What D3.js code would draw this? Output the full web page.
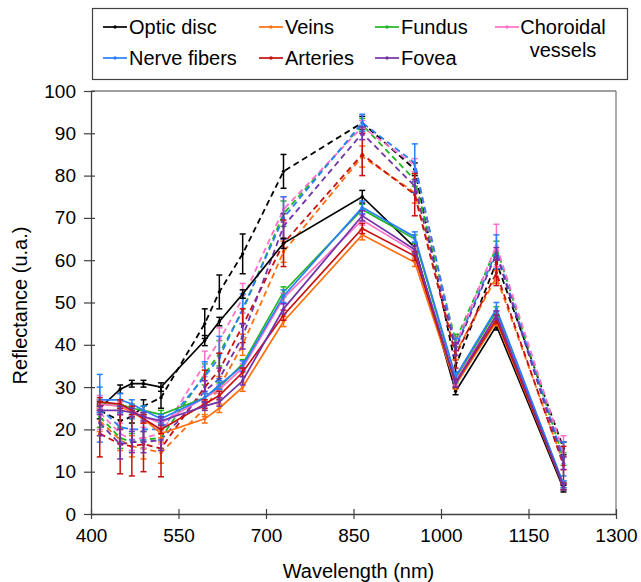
<!DOCTYPE html>
<html>
<head>
<meta charset="utf-8">
<script src="https://cdn.jsdelivr.net/npm/d3@7"></script>
<style>
  html, body { margin: 0; padding: 0; background: #ffffff; }
  svg { display: block; font-family: "Liberation Sans", Arial, sans-serif; }
</style>
</head>
<body>
<svg id="chart" width="641" height="582"></svg>
<script>
// ---------------- DATA ----------------
const wavelengths = [415, 450, 470, 490, 520, 595, 620, 660, 730, 865, 955, 1025, 1095, 1210];
const xTicks = [400, 550, 700, 850, 1000, 1150, 1300];
const yTicks = [0, 10, 20, 30, 40, 50, 60, 70, 80, 90, 100];

const classNames = ["Optic disc", "Veins", "Fundus", "Choroidal vessels", "Nerve fibers", "Arteries", "Fovea"];
const classColors = ["#000000", "#ff6f0f", "#22b422", "#ff70c8", "#2a7fff", "#c81010", "#7232a8"];

// solid series (group 1)
const opticDiscSolid   = [25.0, 29.5, 30.8, 30.8, 30.0, 41.0, 45.5, 52.0, 64.0, 75.0, 63.0, 29.0, 44.5, 6.0];
const veinsSolid       = [26.0, 25.5, 24.0, 22.5, 19.0, 22.5, 25.0, 30.0, 45.5, 66.0, 59.5, 30.5, 45.5, 6.5];
const fundusSolid      = [26.0, 26.0, 25.0, 24.5, 23.5, 27.5, 30.0, 35.5, 52.5, 72.0, 65.0, 32.0, 48.0, 7.0];
const choroidalSolid   = [26.0, 25.5, 24.5, 23.0, 21.5, 27.5, 29.5, 34.5, 51.0, 69.5, 62.0, 31.5, 47.0, 7.0];
const nerveSolid       = [27.0, 27.0, 26.0, 24.5, 22.5, 27.5, 30.5, 35.0, 51.5, 72.5, 65.5, 32.5, 48.5, 7.0];
const arteriesSolid    = [26.5, 26.0, 24.5, 22.5, 20.0, 26.0, 28.0, 33.5, 47.0, 67.5, 61.0, 31.0, 46.0, 6.5];
const foveaSolid       = [24.5, 24.5, 24.0, 23.0, 22.0, 25.5, 26.5, 31.5, 48.5, 70.5, 62.5, 31.0, 47.0, 6.5];

const opticDiscSolidErr = [1.0, 1.0, 0.8, 0.8, 1.0, 1.2, 1.0, 1.0, 1.2, 1.5, 1.0, 0.8, 1.0, 0.8];
const veinsSolidErr     = [1.0, 1.0, 1.0, 1.0, 1.0, 1.0, 1.0, 1.0, 1.2, 1.2, 1.0, 1.0, 1.0, 0.8];
const fundusSolidErr    = [1.0, 1.0, 1.0, 1.0, 1.0, 1.0, 1.0, 1.0, 1.2, 1.2, 1.0, 1.0, 1.0, 0.8];
const choroidalSolidErr = [1.0, 1.0, 1.0, 1.0, 1.0, 1.0, 1.0, 1.0, 1.2, 1.2, 1.0, 1.0, 1.0, 0.8];
const nerveSolidErr     = [3.0, 1.5, 1.0, 1.0, 1.0, 1.0, 1.0, 1.2, 1.5, 1.5, 1.2, 1.0, 1.5, 0.8];
const arteriesSolidErr  = [1.0, 1.0, 1.0, 1.0, 1.0, 1.0, 1.0, 1.0, 1.2, 1.2, 1.0, 1.0, 1.0, 0.8];
const foveaSolidErr     = [1.0, 1.0, 1.0, 1.0, 1.0, 1.0, 1.0, 1.0, 1.2, 1.2, 1.0, 1.0, 1.0, 0.8];

// dashed series (group 2)
const opticDiscDashed  = [24.5, 22.0, 23.0, 25.5, 27.5, 45.0, 52.5, 61.5, 81.0, 92.5, 81.5, 35.0, 59.5, 15.5];
const veinsDashed      = [22.0, 17.5, 16.0, 15.5, 14.5, 25.0, 30.0, 40.0, 62.0, 84.5, 76.0, 38.0, 56.0, 12.0];
const fundusDashed     = [23.0, 18.0, 17.0, 17.5, 18.0, 33.0, 38.0, 48.0, 71.0, 92.0, 79.0, 41.0, 63.0, 13.0];
const choroidalDashed  = [24.0, 19.0, 17.5, 18.0, 19.0, 35.5, 41.0, 51.0, 72.0, 91.5, 82.5, 40.0, 63.5, 14.5];
const nerveDashed      = [25.0, 20.5, 20.0, 20.0, 20.0, 32.5, 37.0, 48.5, 70.0, 92.5, 83.0, 39.5, 62.0, 13.0];
const arteriesDashed   = [19.0, 16.5, 16.0, 16.5, 15.5, 30.0, 34.0, 44.5, 64.0, 85.0, 75.5, 37.5, 57.0, 11.5];
const foveaDashed      = [21.5, 16.5, 17.0, 17.0, 17.5, 29.0, 32.0, 42.0, 68.0, 90.0, 77.5, 39.0, 61.5, 12.0];

const opticDiscDashedErr = [2.0, 2.0, 1.5, 1.5, 2.5, 3.5, 4.0, 4.7, 4.0, 1.5, 1.5, 1.5, 1.5, 1.5];
const veinsDashedErr     = [2.5, 2.5, 2.5, 2.5, 2.5, 2.0, 2.5, 2.5, 2.5, 2.5, 2.5, 1.5, 1.5, 1.5];
const fundusDashedErr    = [2.5, 2.5, 2.0, 2.0, 2.5, 2.5, 3.0, 3.0, 3.0, 1.5, 1.5, 1.5, 1.5, 1.5];
const choroidalDashedErr = [4.0, 2.5, 2.5, 2.5, 2.5, 3.0, 3.0, 3.5, 3.0, 1.5, 1.5, 1.5, 5.0, 4.0];
const nerveDashedErr     = [8.0, 3.5, 2.5, 2.5, 2.5, 3.5, 5.0, 3.5, 5.0, 2.0, 4.5, 2.0, 4.0, 4.0];
const arteriesDashedErr  = [5.5, 7.0, 7.0, 6.5, 6.7, 4.0, 4.0, 4.0, 5.5, 5.0, 5.0, 3.0, 3.0, 4.5];
const foveaDashedErr     = [3.0, 3.5, 2.5, 2.5, 2.5, 2.5, 2.5, 3.0, 3.0, 1.5, 1.5, 1.5, 1.5, 1.5];

const solidValues = [opticDiscSolid, veinsSolid, fundusSolid, choroidalSolid, nerveSolid, arteriesSolid, foveaSolid];
const solidErrors = [opticDiscSolidErr, veinsSolidErr, fundusSolidErr, choroidalSolidErr, nerveSolidErr, arteriesSolidErr, foveaSolidErr];
const dashedValues = [opticDiscDashed, veinsDashed, fundusDashed, choroidalDashed, nerveDashed, arteriesDashed, foveaDashed];
const dashedErrors = [opticDiscDashedErr, veinsDashedErr, fundusDashedErr, choroidalDashedErr, nerveDashedErr, arteriesDashedErr, foveaDashedErr];

// ---------------- LAYOUT ----------------
const svg = d3.select("#chart");
const plot = { left: 91, right: 616, top: 91, bottom: 514 };
const FONT = "Liberation Sans, Arial, sans-serif";

const x = d3.scaleLinear().domain([400, 1300]).range([plot.left, plot.right]);
const y = d3.scaleLinear().domain([0, 100]).range([plot.bottom, plot.top]);

// frame (top and right)
svg.append("line").attr("x1", plot.left).attr("x2", plot.right).attr("y1", plot.top).attr("y2", plot.top)
  .attr("stroke", "#7f7f7f").attr("stroke-width", 1.3);
svg.append("line").attr("x1", plot.right).attr("x2", plot.right).attr("y1", plot.top).attr("y2", plot.bottom)
  .attr("stroke", "#7f7f7f").attr("stroke-width", 1.3);

// axes
const xAxis = svg.append("g").attr("transform", `translate(0,${plot.bottom})`)
  .call(d3.axisBottom(x).tickValues(xTicks).tickSize(6).tickSizeOuter(0).tickFormat(d3.format("d")));
xAxis.select(".domain").attr("stroke", "#404040").attr("stroke-width", 1.3);
xAxis.selectAll(".tick line").attr("y1", -5).attr("y2", 5).attr("stroke", "#404040").attr("stroke-width", 1.2);
xAxis.selectAll(".tick text").attr("y", 15).attr("dy", "0.71em")
  .attr("font-size", 19).attr("fill", "#000").attr("font-family", FONT);

const yAxis = svg.append("g").attr("transform", `translate(${plot.left},0)`)
  .call(d3.axisLeft(y).tickValues(yTicks).tickSize(6).tickSizeOuter(0));
yAxis.select(".domain").attr("stroke", "#404040").attr("stroke-width", 1.3);
yAxis.selectAll(".tick line").attr("x1", -7).attr("x2", 4).attr("stroke", "#404040").attr("stroke-width", 1.2);
yAxis.selectAll(".tick text").attr("x", -15)
  .attr("font-size", 19).attr("fill", "#000").attr("font-family", FONT);

// axis titles
svg.append("text").attr("x", (plot.left + plot.right) / 2 + 5).attr("y", 578)
  .attr("text-anchor", "middle").attr("font-size", 20).attr("font-family", FONT).text("Wavelength (nm)");
svg.append("text").attr("transform", `translate(27,${(plot.top + plot.bottom) / 2 + 3}) rotate(-90)`)
  .attr("text-anchor", "middle").attr("font-size", 20).attr("font-family", FONT).text("Reflectance (u.a.)");

// ---------------- SERIES ----------------
const line = d3.line().x(d => x(d.w)).y(d => y(d.v));

function drawSeries(values, errors, color, dashed) {
  const pts = wavelengths.map((w, i) => ({ w, v: values[i], e: errors[i] }));
  const g = svg.append("g");
  g.append("path").datum(pts).attr("d", line)
    .attr("fill", "none").attr("stroke", color).attr("stroke-width", dashed ? 1.8 : 1.7)
    .attr("stroke-dasharray", dashed ? "6,4" : null);
  const eb = g.selectAll(".eb").data(pts).enter().append("g");
  eb.append("line").attr("x1", d => x(d.w)).attr("x2", d => x(d.w))
    .attr("y1", d => y(d.v - d.e)).attr("y2", d => y(d.v + d.e))
    .attr("stroke", color).attr("stroke-width", 1.5);
  eb.append("line").attr("x1", d => x(d.w) - 3).attr("x2", d => x(d.w) + 3)
    .attr("y1", d => y(d.v + d.e)).attr("y2", d => y(d.v + d.e))
    .attr("stroke", color).attr("stroke-width", 1.5);
  eb.append("line").attr("x1", d => x(d.w) - 3).attr("x2", d => x(d.w) + 3)
    .attr("y1", d => y(d.v - d.e)).attr("y2", d => y(d.v - d.e))
    .attr("stroke", color).attr("stroke-width", 1.5);
  g.selectAll(".pt").data(pts).enter().append("circle")
    .attr("cx", d => x(d.w)).attr("cy", d => y(d.v)).attr("r", 1.7).attr("fill", color);
}

dashedValues.forEach((vals, i) => drawSeries(vals, dashedErrors[i], classColors[i], true));
solidValues.forEach((vals, i) => drawSeries(vals, solidErrors[i], classColors[i], false));

// ---------------- LEGEND ----------------
const legend = svg.append("g");
legend.append("rect").attr("x", 92.5).attr("y", 8.5).attr("width", 535).attr("height", 71)
  .attr("fill", "#fff").attr("stroke", "#404040").attr("stroke-width", 1.2);

const legendCols = [103, 259, 375, 495];
const legendRows = [27, 58];
classNames.forEach((name, i) => {
  const col = i % 4, row = Math.floor(i / 4);
  const lx = legendCols[col], ly = legendRows[row];
  const g = legend.append("g");
  g.append("line").attr("x1", lx).attr("x2", lx + 24).attr("y1", ly).attr("y2", ly)
    .attr("stroke", classColors[i]).attr("stroke-width", 1.7);
  g.append("circle").attr("cx", lx + 12).attr("cy", ly).attr("r", 1.7).attr("fill", classColors[i]);
  if (name === "Choroidal vessels") {
    const t = g.append("text").attr("text-anchor", "middle").attr("font-size", 20)
      .attr("font-family", FONT).attr("fill", "#000");
    t.append("tspan").attr("x", lx + 26 + 42).attr("y", ly + 7).text("Choroidal");
    t.append("tspan").attr("x", lx + 26 + 42).attr("y", ly + 30).text("vessels");
  } else {
    g.append("text").attr("x", lx + 26).attr("y", ly + 7).attr("font-size", 20)
      .attr("font-family", FONT).attr("fill", "#000").text(name);
  }
});
</script>
</body>
</html>
